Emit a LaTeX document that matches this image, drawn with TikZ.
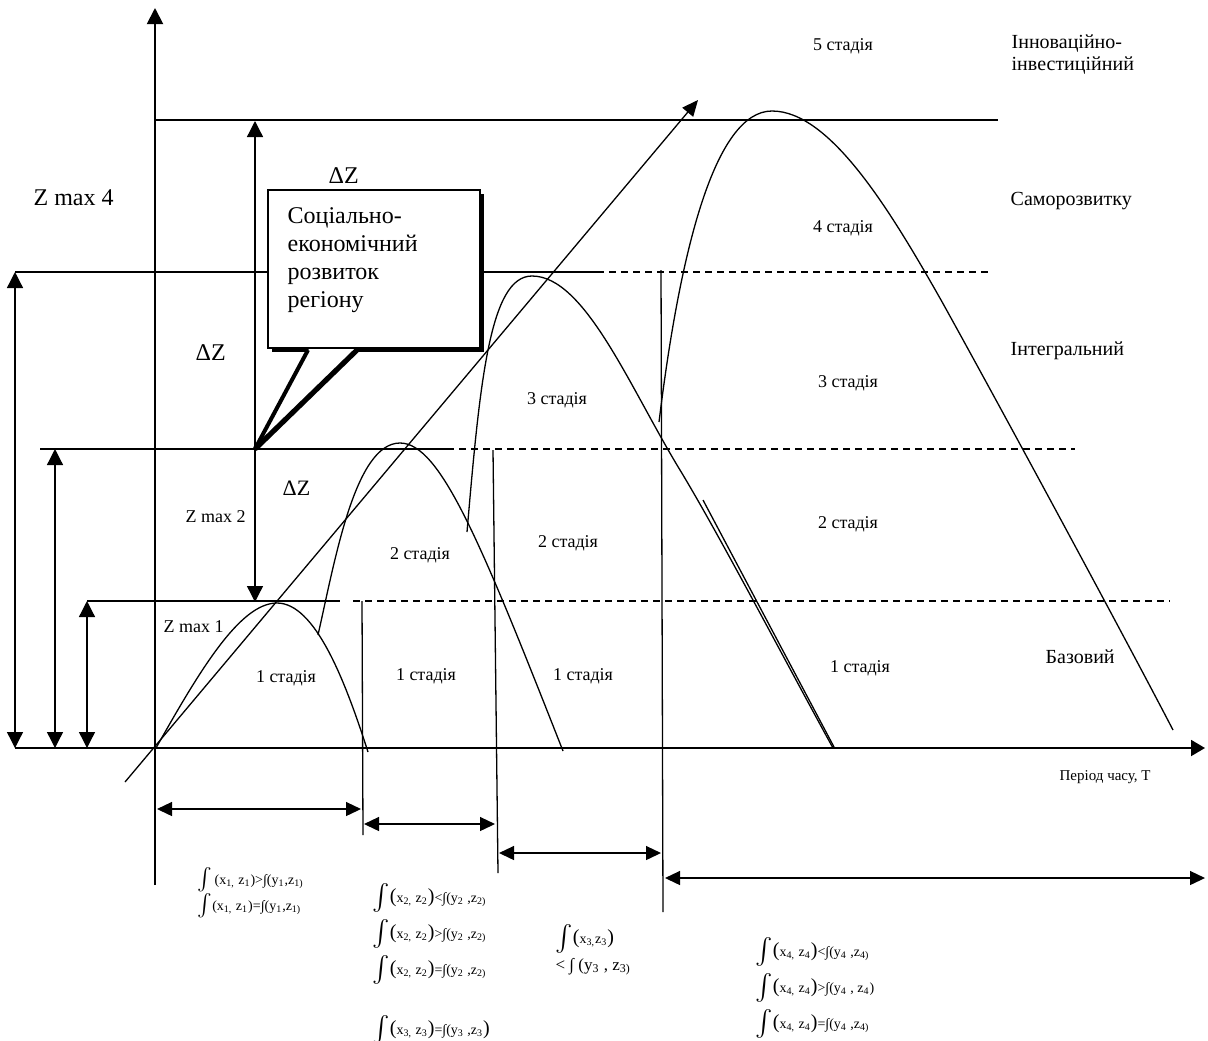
\documentclass[tikz,border=0pt]{standalone}
\usepackage{graphicx}
\usepackage{fontspec}
\setmainfont{Liberation Serif}
\usetikzlibrary{arrows.meta}
\newcommand{\lo}[1]{\textsubscript{#1}}
\newcommand{\Intg}{\scalebox{1.3}{$\int$}}
\newcommand{\Intgs}{\scalebox{1.1}{$\int$}}
\newcommand{\Lpar}{{\fontsize{10}{10}\selectfont(}}
\newcommand{\Rpar}{{\fontsize{10}{10}\selectfont)}}
\begin{document}
\begin{tikzpicture}[x=0.5pt,y=-0.5pt,line width=0.65pt,
  axisline/.style={line width=0.95pt},
  dtipA/.style={{Triangle[length=8pt,width=8pt]}-{Triangle[length=8pt,width=8pt]}},
  dtipB/.style={{Triangle[length=7.5pt,width=7pt]}-{Triangle[length=7.5pt,width=7pt]}},
  dline/.style={dash pattern=on 3.5pt off 2.5pt},
  big/.style={font=\fontsize{12}{14}\selectfont,inner sep=0pt},
  mid/.style={font=\fontsize{10}{12}\selectfont,inner sep=0pt},
  small/.style={font=\fontsize{9}{10}\selectfont,inner sep=0pt},
  tiny/.style={font=\fontsize{7.5}{9}\selectfont,inner sep=0pt},
  frm/.style={font=\fontsize{7}{9}\selectfont,inner sep=0pt,anchor=base west}]
\useasboundingbox (0,0) rectangle (1208,1040);

% axes
\coordinate (ytop) at (155,8);
\coordinate (ybot) at (155,885);
\coordinate (xl) at (15,748);
\coordinate (xr) at (1205,748);
\draw[axisline,-{Triangle[length=8pt,width=8pt]}] (ybot) -- (ytop);
\draw[axisline,-{Triangle[length=7pt,width=8pt]}] (xl) -- (xr);

% levels
\draw (155,120) -- (998,120);
\draw (15,272) -- (597,272);
\draw[dline] (597,272) -- (990,272);
\draw (40,449) -- (447,449);
\draw[dline] (447,449) -- (1075,449);
\draw (87,601) -- (340,601);
\draw[dline] (353,601) -- (1170,601);

% left dimension arrows
\draw[dtipA] (15,272) -- (15,748);
\draw[dtipA] (55,449) -- (55,748);
\draw[dtipA] (87,601) -- (87,748);
\draw[dtipA] (255,121) -- (255,602);

% stage separators
\draw (362,601) -- (363,835);
\draw (493,450) -- (498,873);
\draw (661,270) -- (663,912);

% bottom period arrows
\draw[dtipB] (157,809) -- (361,809);
\draw[dtipB] (364,824) -- (495,824);
\draw[dtipB] (499,853) -- (661,853);
\draw[dtipB] (665,878) -- (1205,878);

% curves
\draw (156,748) .. controls (200,670) and (240,603) .. (277,603)
      .. controls (315,603) and (345,680) .. (368,752);
\draw (318,635) .. controls (335,560) and (355,443) .. (400,443)
      .. controls (440,443) and (480,540) .. (563,751);
\draw (467,532) .. controls (480,380) and (490,276) .. (532,276)
      .. controls (585,276) and (630,388) .. (680,470)
      .. controls (720,536) and (790,670) .. (833,748);
\draw (703,500) -- (834,747);
\draw (659,422) .. controls (680,250) and (715,111) .. (772,111)
      .. controls (830,111) and (890,210) .. (941,300)
      .. controls (990,388) and (1120,628) .. (1173,730);
\draw[-{Triangle[length=8pt,width=7pt]}] (125,782) -- (698,100);

% callout
\fill (272,194) rectangle (484,352);
\draw[fill=white] (268,190) rectangle (480,348);
\draw[line width=1.4pt] (268,190) -- (480,190);
\fill[white] (309,349) -- (255,449) -- (356,349) -- cycle;
\draw[line width=2pt] (308,350) -- (255,449);
\draw[line width=2.6pt] (357,350) -- (255,449);
\node[big,anchor=north west,align=left] (box) at (287,207)
  {Соціально-\\економічний\\розвиток\\регіону};

% left labels
\node[big,anchor=base west] (zm4) at (33,205) {Z max 4};
\node[big,anchor=base west] (dz1) at (328,183) {ΔZ};
\node[big,anchor=base west] (dz2) at (195,360) {ΔZ};
\node[small,anchor=base west,font=\fontsize{11}{12}\selectfont] (dz3) at (282,495) {ΔZ};
\node[small,anchor=base west] (zm2) at (185,522) {Z max 2};
\node[small,anchor=base west] (zm1) at (163,632) {Z max 1};

% stage labels
\node[small,anchor=base] (s11) at (286,682) {1 стадія};
\node[small,anchor=base] (s12) at (426,680) {1 стадія};
\node[small,anchor=base] (s13) at (583,680) {1 стадія};
\node[small,anchor=base] (s14) at (860,672) {1 стадія};
\node[small,anchor=base] (s21) at (420,559) {2 стадія};
\node[small,anchor=base] (s22) at (568,547) {2 стадія};
\node[small,anchor=base] (s23) at (848,528) {2 стадія};
\node[small,anchor=base] (s31) at (557,404) {3 стадія};
\node[small,anchor=base] (s32) at (848,387) {3 стадія};
\node[small,anchor=base] (s4) at (843,232) {4 стадія};
\node[small,anchor=base] (s5) at (843,50) {5 стадія};

% right labels
\node[mid,anchor=base west] (l5a) at (1011,48) {Інноваційно-};
\node[mid,anchor=base west] (l5b) at (1011,70) {інвестиційний};
\node[mid,anchor=base west] (l4) at (1010,205) {Саморозвитку};
\node[mid,anchor=base west] (l3) at (1010,355) {Інтегральний};
\node[mid,anchor=base west] (l1) at (1045,663) {Базовий};
\node[tiny,anchor=base west] (tl) at (1059,780) {Період часу, Т};

% formulas
\node[frm] (f11) at (197,884) {\Intgs\,(x\lo{1,} z\lo{1})>∫(y\lo{1},z\lo{1)}};
\node[frm] (f12) at (197,910) {\Intgs(x\lo{1,} z\lo{1})=∫(y\lo{1},z\lo{1)}};
\node[frm] (f21) at (372,902) {\Intg\Lpar x\lo{2,} z\lo{2}\Rpar<∫(y\lo{2} ,z\lo{2)}};
\node[frm] (f22) at (372,938) {\Intg\Lpar x\lo{2,} z\lo{2}\Rpar>∫(y\lo{2} ,z\lo{2)}};
\node[frm] (f23) at (372,974) {\Intg\Lpar x\lo{2,} z\lo{2}\Rpar=∫(y\lo{2} ,z\lo{2)}};
\node[frm] (f24) at (372,1034) {\Intg\Lpar x\lo{3,} z\lo{3}\Rpar=∫(y\lo{3} ,z\lo{3}\Rpar};
\node[frm] (f31) at (555,943) {\Intg\Lpar x\lo{3,}z\lo{3}\Rpar};
\node[frm,font=\fontsize{8.5}{10}\selectfont] (f32) at (555,970) {< ∫ (y\lo{3} , z\lo{3)}};
\node[frm] (f41) at (755,956) {\Intg\Lpar x\lo{4,} z\lo{4}\Rpar<∫(y\lo{4} ,z\lo{4)}};
\node[frm] (f42) at (755,992) {\Intg\Lpar x\lo{4,} z\lo{4}\Rpar>∫(y\lo{4} , z\lo{4})};
\node[frm] (f43) at (755,1028) {\Intg\Lpar x\lo{4,} z\lo{4}\Rpar=∫(y\lo{4} ,z\lo{4)}};
\end{tikzpicture}
\end{document}
